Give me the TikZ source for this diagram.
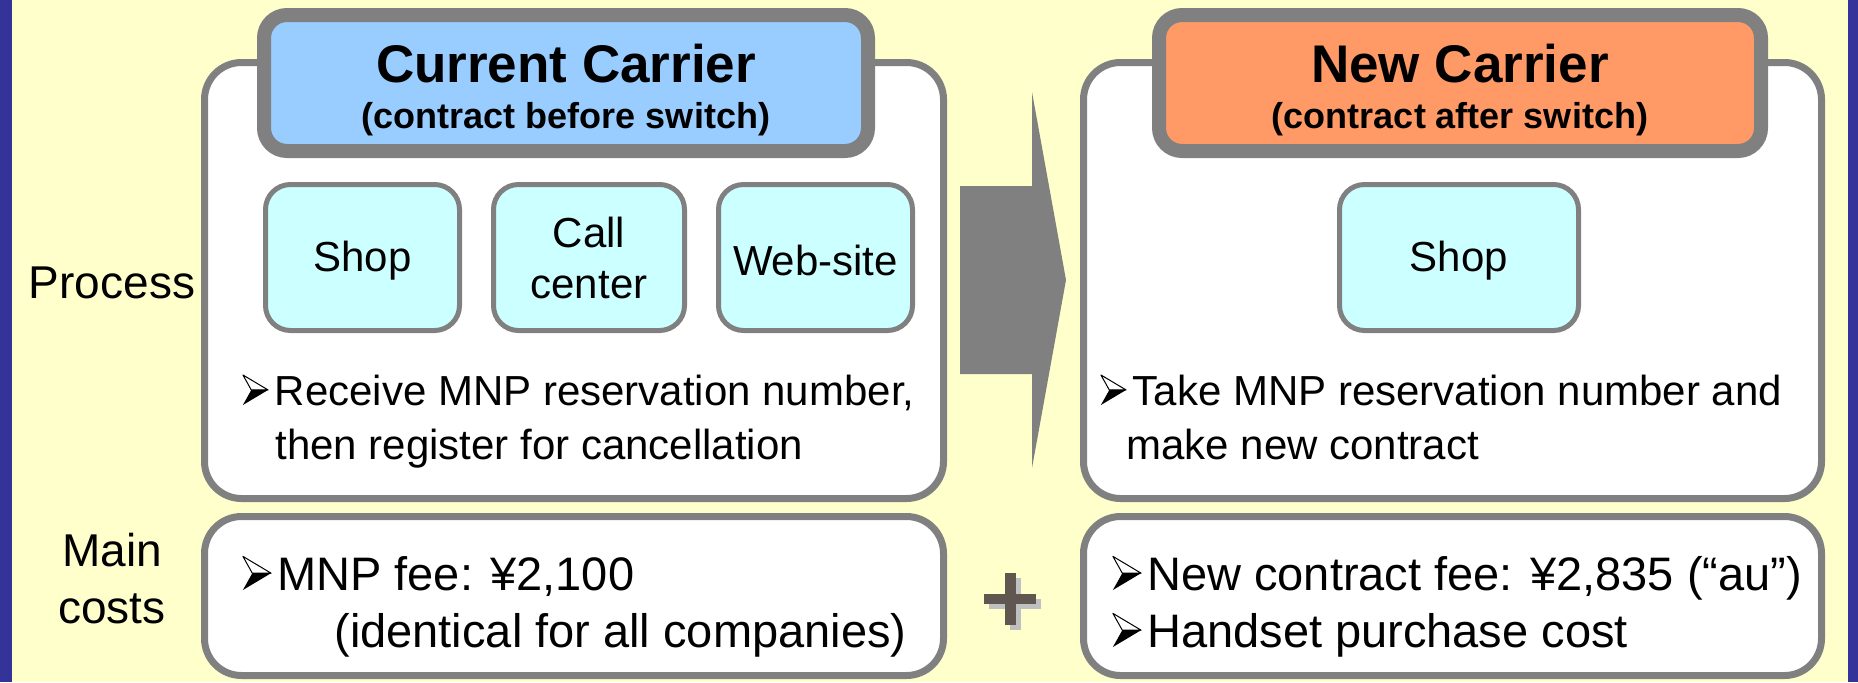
\documentclass[tikz,border=0pt]{standalone}
\usepackage{fontspec}
\setmainfont{Liberation Sans}

\definecolor{bgyellow}{HTML}{FFFFCC}
\definecolor{barblue}{HTML}{333399}
\definecolor{boxgray}{HTML}{808080}
\definecolor{headblue}{HTML}{99CCFF}
\definecolor{headorange}{HTML}{FF9966}
\definecolor{chancyan}{HTML}{CCFFFF}
\definecolor{plusgray}{HTML}{605850}
\definecolor{plusshadow}{HTML}{C0C0C0}

% three-d arrowhead bullet
\newcommand{\tipmark}{\tikz[x=1em,y=1em,baseline=0pt]{%
  \filldraw[fill=white,draw=black,line width=0.5pt,line join=round] (0,0.716)--(0.6,0.358)--(0.2,0.358)--cycle;
  \fill[black] (0,0)--(0.6,0.358)--(0.2,0.358)--cycle;}}

\tikzset{
  outerbox/.style={draw=boxgray, line width=3.5pt, fill=white, rounded corners=18.5pt},
  headbox/.style={draw=boxgray, line width=7pt, rounded corners=11.5pt},
  chanbox/.style={draw=boxgray, line width=2.5pt, fill=chancyan, rounded corners=12.5pt},
  chantext/.style={font=\fontsize{21}{25.5}\selectfont, align=center, inner sep=0pt},
  steptext/.style={anchor=base west, font=\fontsize{21}{26}\selectfont, inner sep=0pt},
  costtext/.style={anchor=base west, font=\fontsize{23.5}{29}\selectfont, inner sep=0pt},
  rowlabel/.style={anchor=base, font=\fontsize{23}{28.5}\selectfont, inner sep=0pt},
  titletext/.style={anchor=base, font=\bfseries\fontsize{26.5}{30}\selectfont, inner sep=0pt},
  subtext/.style={anchor=base, font=\bfseries\fontsize{18}{22}\selectfont, inner sep=0pt}
}

\begin{document}
\begin{tikzpicture}[x=0.5pt,y=-0.5pt]
\useasboundingbox (0,0) rectangle (1858,682);

% background and side bars
\fill[bgyellow] (0,0) rectangle (1858,682);
\fill[barblue] (0,0) rectangle (12,682);
\fill[barblue] (1848,0) rectangle (1858,682);

% row labels
\node[rowlabel] (proclabel) at (112,298) {Process};
\node[rowlabel] (costlabela) at (112,566) {Main};
\node[rowlabel] (costlabelb) at (112,623) {costs};

% current carrier
\draw[outerbox] (204.5,62.5) rectangle (943.5,498.5);
\draw[headbox, fill=headblue] (264,15) rectangle (868,151);
\node[titletext] (curtitle) at (566,82) {Current Carrier};
\node[subtext] (cursub) at (566,128) {(contract before switch)};

\draw[chanbox] (265.5,184.5) rectangle (459.5,330.5);
\draw[chanbox] (493.5,184.5) rectangle (684.5,330.5);
\draw[chanbox] (718.5,184.5) rectangle (912.5,330.5);
\node[chantext] (curshop) at (362.5,260.5) {Shop};
\node[chantext] (curcall) at (589,257.5) {Call\\center};
\node[chantext] (curweb) at (815.5,260.5) {Web-site};

\node[steptext] (curstepa) at (242,405) {\tipmark\hspace{0.15em}Receive MNP reservation number,};
\node[steptext] (curstepb) at (275,459) {then register for cancellation};

% switch arrow
\fill[boxgray] (960,186) -- (1032,186) -- (1032,92) -- (1066,280) -- (1032,468) -- (1032,374) -- (960,374) -- cycle;

% new carrier
\draw[outerbox] (1083.5,62.5) rectangle (1821.5,498.5);
\draw[headbox, fill=headorange] (1159,15) rectangle (1761,151);
\node[titletext] (newtitle) at (1460,82) {New Carrier};
\node[subtext] (newsub) at (1460,128) {(contract after switch)};

\draw[chanbox] (1339.5,184.5) rectangle (1578.5,330.5);
\node[chantext] (newshop) at (1459,260.5) {Shop};

\node[steptext] (newstepa) at (1100,405) {\tipmark\hspace{0.15em}Take MNP reservation number and};
\node[steptext] (newstepb) at (1126,459) {make new contract};

% main costs
\draw[outerbox] (204.5,516.5) rectangle (943.5,675.5);
\node[costtext] (curcosta) at (242,590) {\tipmark\hspace{0.12em}MNP fee: ¥2,100};
\node[costtext] (curcostb) at (334,647) {(identical for all companies)};

\draw[outerbox] (1083.5,516.5) rectangle (1821.5,675.5);
\node[costtext] (newcosta) at (1112,590) {\tipmark\hspace{0.12em}New contract fee: ¥2,835 (“au”)};
\node[costtext] (newcostb) at (1112,647) {\tipmark\hspace{0.12em}Handset purchase cost};

% plus sign with shadow
\fill[plusshadow] (989,599) rectangle (1041,609);
\fill[plusshadow] (1010,578) rectangle (1021,630);
\fill[plusgray] (984,594) rectangle (1036,604);
\fill[plusgray] (1005,573) rectangle (1016,625);
\end{tikzpicture}
\end{document}
